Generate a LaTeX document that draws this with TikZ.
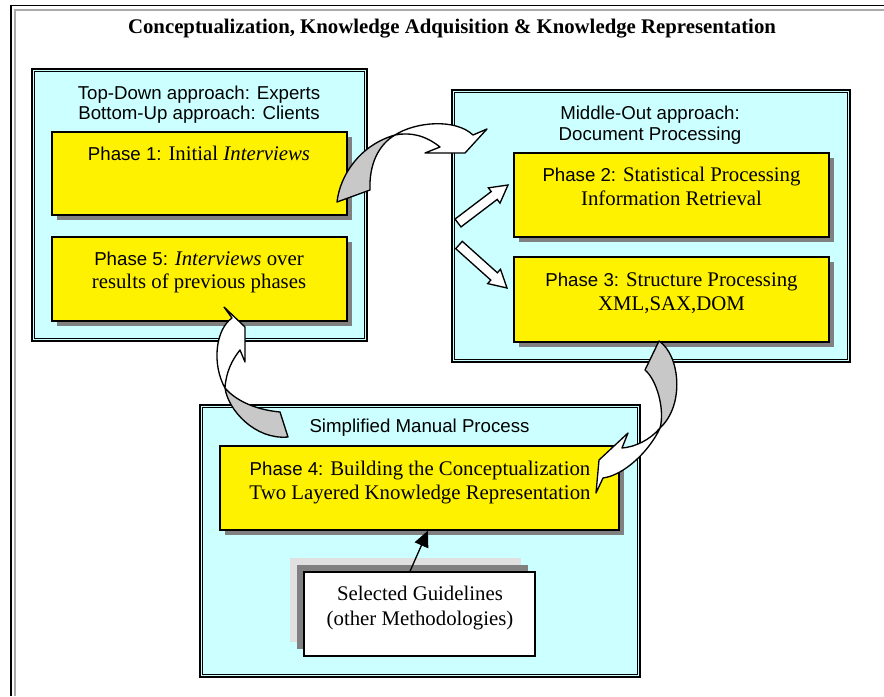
\documentclass[tikz,border=0pt]{standalone}
\usepackage{fontspec}
\setmainfont{Liberation Serif}
\newfontfamily\arialf{Liberation Sans}
\usetikzlibrary{calc,fit,shadows,arrows.meta}
\definecolor{cyanbg}{RGB}{204,255,255}
\definecolor{shadowgray}{RGB}{128,128,128}
\definecolor{ribbongray}{RGB}{200,200,200}
\definecolor{lightsh}{RGB}{224,224,224}
\definecolor{framegray}{RGB}{170,170,170}
\newcommand\arl[1]{{\fontsize{14}{16}\selectfont\arialf #1}}
\newcommand\blockarr[2]{%
  \coordinate (ba-h) at ($(#2)!13pt!(#1)$);
  \draw[blockarrow] ($(#1)!3.7pt!90:(#2)$) -- ($(ba-h)!3.7pt!90:(#2)$) -- ($(ba-h)!7.2pt!90:(#2)$) -- (#2)
    -- ($(ba-h)!7.2pt!-90:(#2)$) -- ($(ba-h)!3.7pt!-90:(#2)$) -- ($(#1)!3.7pt!-90:(#2)$) -- cycle;}
\begin{document}
\begin{tikzpicture}[x=0.75pt,y=-0.75pt,
  group/.style={draw, line width=2pt, fill=cyanbg, inner sep=0pt},
  innerline/.style={draw, line width=1pt},
  phase/.style={draw, line width=1pt, fill=yellow, inner sep=0pt,
    general shadow={fill=shadowgray, shadow xshift=3.75pt, shadow yshift=-3.75pt}},
  guidebox/.style={draw, line width=1pt, fill=white, inner sep=0pt,
    general shadow={fill=lightsh, shadow xshift=-10.5pt, shadow yshift=10.5pt},
    general shadow={fill=shadowgray, shadow xshift=-5.25pt, shadow yshift=5.25pt}},
  txt/.style={anchor=base, inner sep=0pt, font=\fontsize{15.6}{18}\selectfont},
  ribbonback/.style={draw, line width=1pt, fill=ribbongray, line join=round},
  ribbonfront/.style={draw, line width=1pt, fill=white, line join=round},
  blockarrow/.style={draw, line width=1pt, fill=white, line join=miter},
]
\useasboundingbox (0,0) rectangle (884,696);
% outer frame
\draw[black, line width=0.9pt] (11,696) -- (11,5.5) -- (884,5.5);
\draw[framegray, line width=1.5pt] (15,696) -- (15,10) -- (884,10);
% title
\node[anchor=base, inner sep=0pt, font=\fontsize{15.6}{18}\selectfont\bfseries] (title) at (452,33)
  {Conceptualization, Knowledge Adquisition \& Knowledge Representation};

% group boxes
\node[group, fit={(32,69) (367,341)}] (b1) {};
\draw[innerline] ([shift={(4,4)}]b1.north west) rectangle ([shift={(-4,-4)}]b1.south east);
\node[group, fit={(452,90) (850,362)}] (b2) {};
\draw[innerline] ([shift={(4,4)}]b2.north west) rectangle ([shift={(-4,-4)}]b2.south east);
\node[group, fit={(200,405) (640,677)}] (b3) {};
\draw[innerline] ([shift={(4,4)}]b3.north west) rectangle ([shift={(-4,-4)}]b3.south east);

% phase boxes
\node[phase, fit={(52,132) (347,215)}] (p1) {};
\node[phase, fit={(52,237) (347,321)}] (p5) {};
\node[phase, fit={(514,153) (829,237)}] (p2) {};
\node[phase, fit={(514,257) (829,342)}] (p3) {};
\node[phase, fit={(220,446) (619,530)}] (p4) {};
\node[guidebox, fit={(304,572) (535,656)}] (guide) {};

% texts
\node[txt] (b1a) at (199,99) {\arl{Top-Down approach: Experts}};
\node[txt] (b1b) at (199,119) {\arl{Bottom-Up approach: Clients}};
\node[txt] (p1t) at (199,160) {\arl{Phase 1:} Initial \textit{Interviews}};
\node[txt] (p5a) at (199,265) {\arl{Phase 5:} \textit{Interviews} over};
\node[txt] (p5b) at (199,288.5) {results of previous phases};
\node[txt] (b2a) at (650,119) {\arl{Middle-Out approach:}};
\node[txt] (b2b) at (650,140.5) {\arl{Document Processing}};
\node[txt] (p2a) at (671.5,181.5) {\arl{Phase 2:} Statistical Processing};
\node[txt] (p2b) at (671.5,205) {Information Retrieval};
\node[txt] (p3a) at (671.5,286.5) {\arl{Phase 3:} Structure Processing};
\node[txt] (p3b) at (671.5,310) {XML,SAX,DOM};
\node[txt] (b3a) at (419.5,432.5) {\arl{Simplified Manual Process}};
\node[txt] (p4a) at (420,475.5) {\arl{Phase 4:} Building the Conceptualization};
\node[txt] (p4b) at (420,499) {Two Layered Knowledge Representation};
\node[txt] (ga) at (420,600) {Selected Guidelines};
\node[txt] (gb) at (420,625) {(other Methodologies)};

% guideline arrow
\draw[line width=1pt, -{Triangle[length=12pt,width=11pt]}]
  ($(guide.north west)!0.459!(guide.north east)$) -- ($(p4.south west)!0.521!(p4.south east)$);

% straight block arrows in box 2
\coordinate (a2s) at (458,223);
\coordinate (a2e) at (508,185);
\coordinate (a3s) at (459,245);
\coordinate (a3e) at (507,288);
\blockarr{a2s}{a2e}
\blockarr{a3s}{a3e}

% curved ribbon arrow: phase 1 -> box 2
\draw[ribbonback] (337,202) .. controls (340,175) and (360,145) .. (395,135)
  .. controls (378,145) and (369,165) .. (370,190) -- cycle;
\draw[ribbonfront] (395,135) .. controls (415,122) and (455,118) .. (473,135)
  -- (487,129) -- (465,153) -- (425,153) -- (440,147)
  .. controls (425,135) and (410,132) .. (395,135) -- cycle;

% curved ribbon arrow: box 3 -> phase 5
\draw[ribbonback] (225,388) .. controls (228,410) and (255,440) .. (288,437)
  -- (280,412) .. controls (258,410) and (237,402) .. (225,388) -- cycle;
\draw[ribbonfront] (225,388) .. controls (212,365) and (215,330) .. (232,318)
  -- (224,307) -- (245,327) -- (245,362) -- (240,350)
  .. controls (232,360) and (226,372) .. (225,388) -- cycle;

% curved ribbon arrow: phase 3 -> phase 4
\draw[ribbonback] (659,341) .. controls (680,355) and (685,405) .. (660,428)
  .. controls (665,410) and (657,380) .. (645,370) -- cycle;
\draw[ribbonfront] (660,428) .. controls (650,440) and (635,447) .. (622,448)
  -- (628,433) -- (599,460) -- (596,493) -- (603,478)
  .. controls (625,475) and (650,450) .. (660,428) -- cycle;
\end{tikzpicture}
\end{document}
